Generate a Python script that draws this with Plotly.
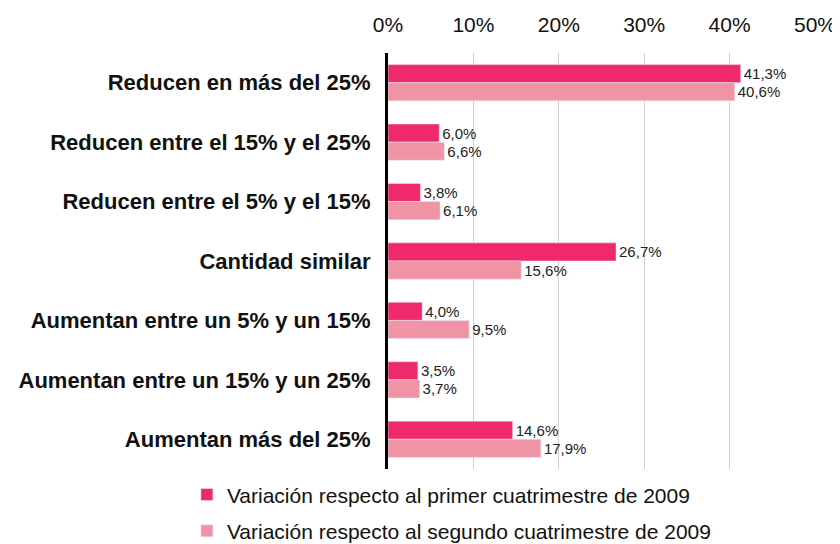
import plotly.graph_objects as go

categories = [
    "Reducen en más del 25%",
    "Reducen entre el 15% y el 25%",
    "Reducen entre el 5% y el 15%",
    "Cantidad similar",
    "Aumentan entre un 5% y un 15%",
    "Aumentan entre un 15% y un 25%",
    "Aumentan más del 25%",
]
serie1_name = "Variación respecto al primer cuatrimestre de 2009"
serie2_name = "Variación respecto al segundo cuatrimestre de 2009"
serie1 = [41.3, 6.0, 3.8, 26.7, 4.0, 3.5, 14.6]
serie2 = [40.6, 6.6, 6.1, 15.6, 9.5, 3.7, 17.9]
tick_vals = [0, 10, 20, 30, 40, 50]
tick_text = ["0%", "10%", "20%", "30%", "40%", "50%"]

def fmt(v):
    return f"{v:.1f}".replace(".", ",") + "%"

FONT = "Liberation Sans, Arial, Helvetica, sans-serif"

fig = go.Figure()
fig.add_trace(go.Bar(
    y=categories, x=serie1, orientation="h", name=serie1_name,
    marker=dict(color="#EE2A6C"), legendgroup="a",
    text=[fmt(v) for v in serie1], textposition="outside",
    textfont=dict(size=15, color="#222222", family=FONT), cliponaxis=False,
))
fig.add_trace(go.Bar(
    y=categories, x=serie2, orientation="h", name=serie2_name,
    marker=dict(color="#F093A5"), legendgroup="b",
    text=[fmt(v) for v in serie2], textposition="outside",
    textfont=dict(size=15, color="#222222", family=FONT), cliponaxis=False,
))

fig.update_layout(
    width=832, height=536,
    margin=dict(l=380, r=25, t=45, b=75, autoexpand=False),
    paper_bgcolor="white", plot_bgcolor="white",
    barmode="group", bargap=0.39, bargroupgap=0,
    font=dict(family=FONT, color="#111111"),
    uniformtext=dict(minsize=1, mode="show"),
    xaxis=dict(
        side="top", range=[0, 50], tickvals=tick_vals, ticktext=tick_text,
        tickfont=dict(size=21, color="#111111"), tickangle=0,
        showgrid=True, gridcolor="#D0D0D0", gridwidth=1,
        zeroline=False, showline=False, ticks="", automargin=False,
        ticklabelstandoff=16,
    ),
    yaxis=dict(
        autorange="reversed", automargin=False,
        tickfont=dict(size=22, color="#111111", family="Liberation Sans, Arial, sans-serif", weight="bold"),
        showline=True, linecolor="black", linewidth=3, ticks="",
        ticklabelstandoff=10,
    ),
    legend=dict(
        orientation="v", xref="paper", yref="paper",
        x=-0.471, y=-0.013, xanchor="left", yanchor="top",
        font=dict(size=21, color="#111111"),
        tracegroupgap=6, itemwidth=30,
    ),
    showlegend=True,
)
fig.write_html("out.html")
